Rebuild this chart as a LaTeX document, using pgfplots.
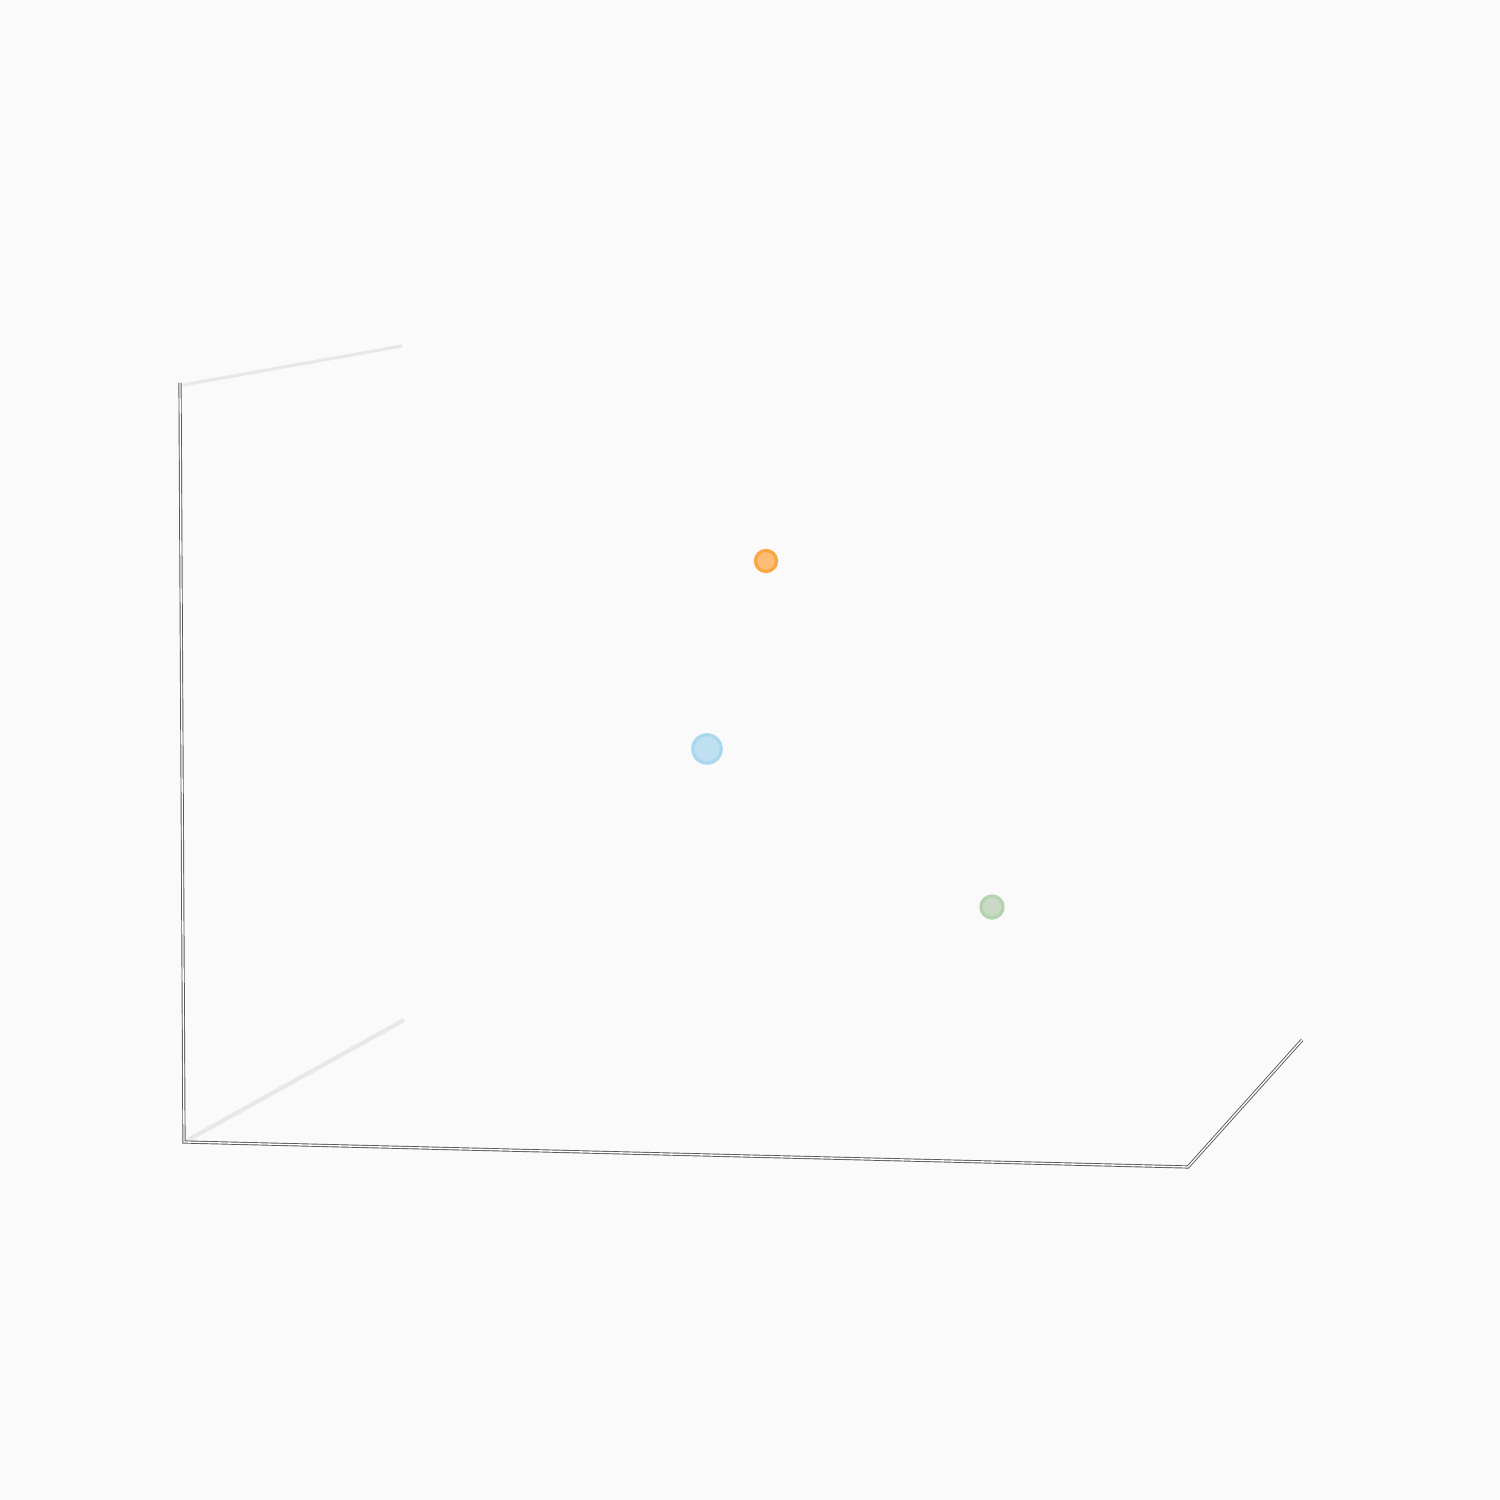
\documentclass[border=0pt]{standalone}
\usepackage{pgfplots}
\pgfplotsset{compat=1.18}
\definecolor{bg}{HTML}{FAFAFA}
\definecolor{gridc}{HTML}{E8E8E8}
\definecolor{orfill}{HTML}{FCBC75}
\definecolor{oredge}{HTML}{F9A540}
\definecolor{blfill}{HTML}{BEE0F0}
\definecolor{bledge}{HTML}{A9D8EE}
\definecolor{grfill}{HTML}{C9D9C6}
\definecolor{gredge}{HTML}{B3D3AE}
\begin{document}
\begin{tikzpicture}
\begin{axis}[
  scale only axis, width=10cm, height=10cm,
  xmin=0, xmax=1500, ymin=0, ymax=1500,
  hide axis, clip=false,
]
% background
\addplot[fill=bg, draw=none] coordinates {(0,0) (1500,0) (1500,1500) (0,1500)} \closedcycle;
% light grid-like lines
\addplot[gridc, line width=0.6pt] coordinates {(183,1115) (402,1154)};
\addplot[gridc, line width=0.8pt] coordinates {(188,360) (404,480)};
% axis lines (dark outline with white core)
\addplot[gray!70!black, line width=0.6pt] coordinates {(180,1117) (184,358) (1188,333) (1302,460)};
\addplot[white, line width=0.25pt] coordinates {(180,1117) (184,358) (1188,333) (1302,460)};
% points
\addplot[only marks, mark=*, mark size=2.7pt, mark options={fill=blfill, draw=bledge, line width=0.6pt}] coordinates {(707,751)};
\addplot[only marks, mark=*, mark size=2.0pt, mark options={fill=orfill, draw=oredge, line width=0.6pt}] coordinates {(766,939)};
\addplot[only marks, mark=*, mark size=2.1pt, mark options={fill=grfill, draw=gredge, line width=0.6pt}] coordinates {(992,593)};
\end{axis}
\end{tikzpicture}
\end{document}
